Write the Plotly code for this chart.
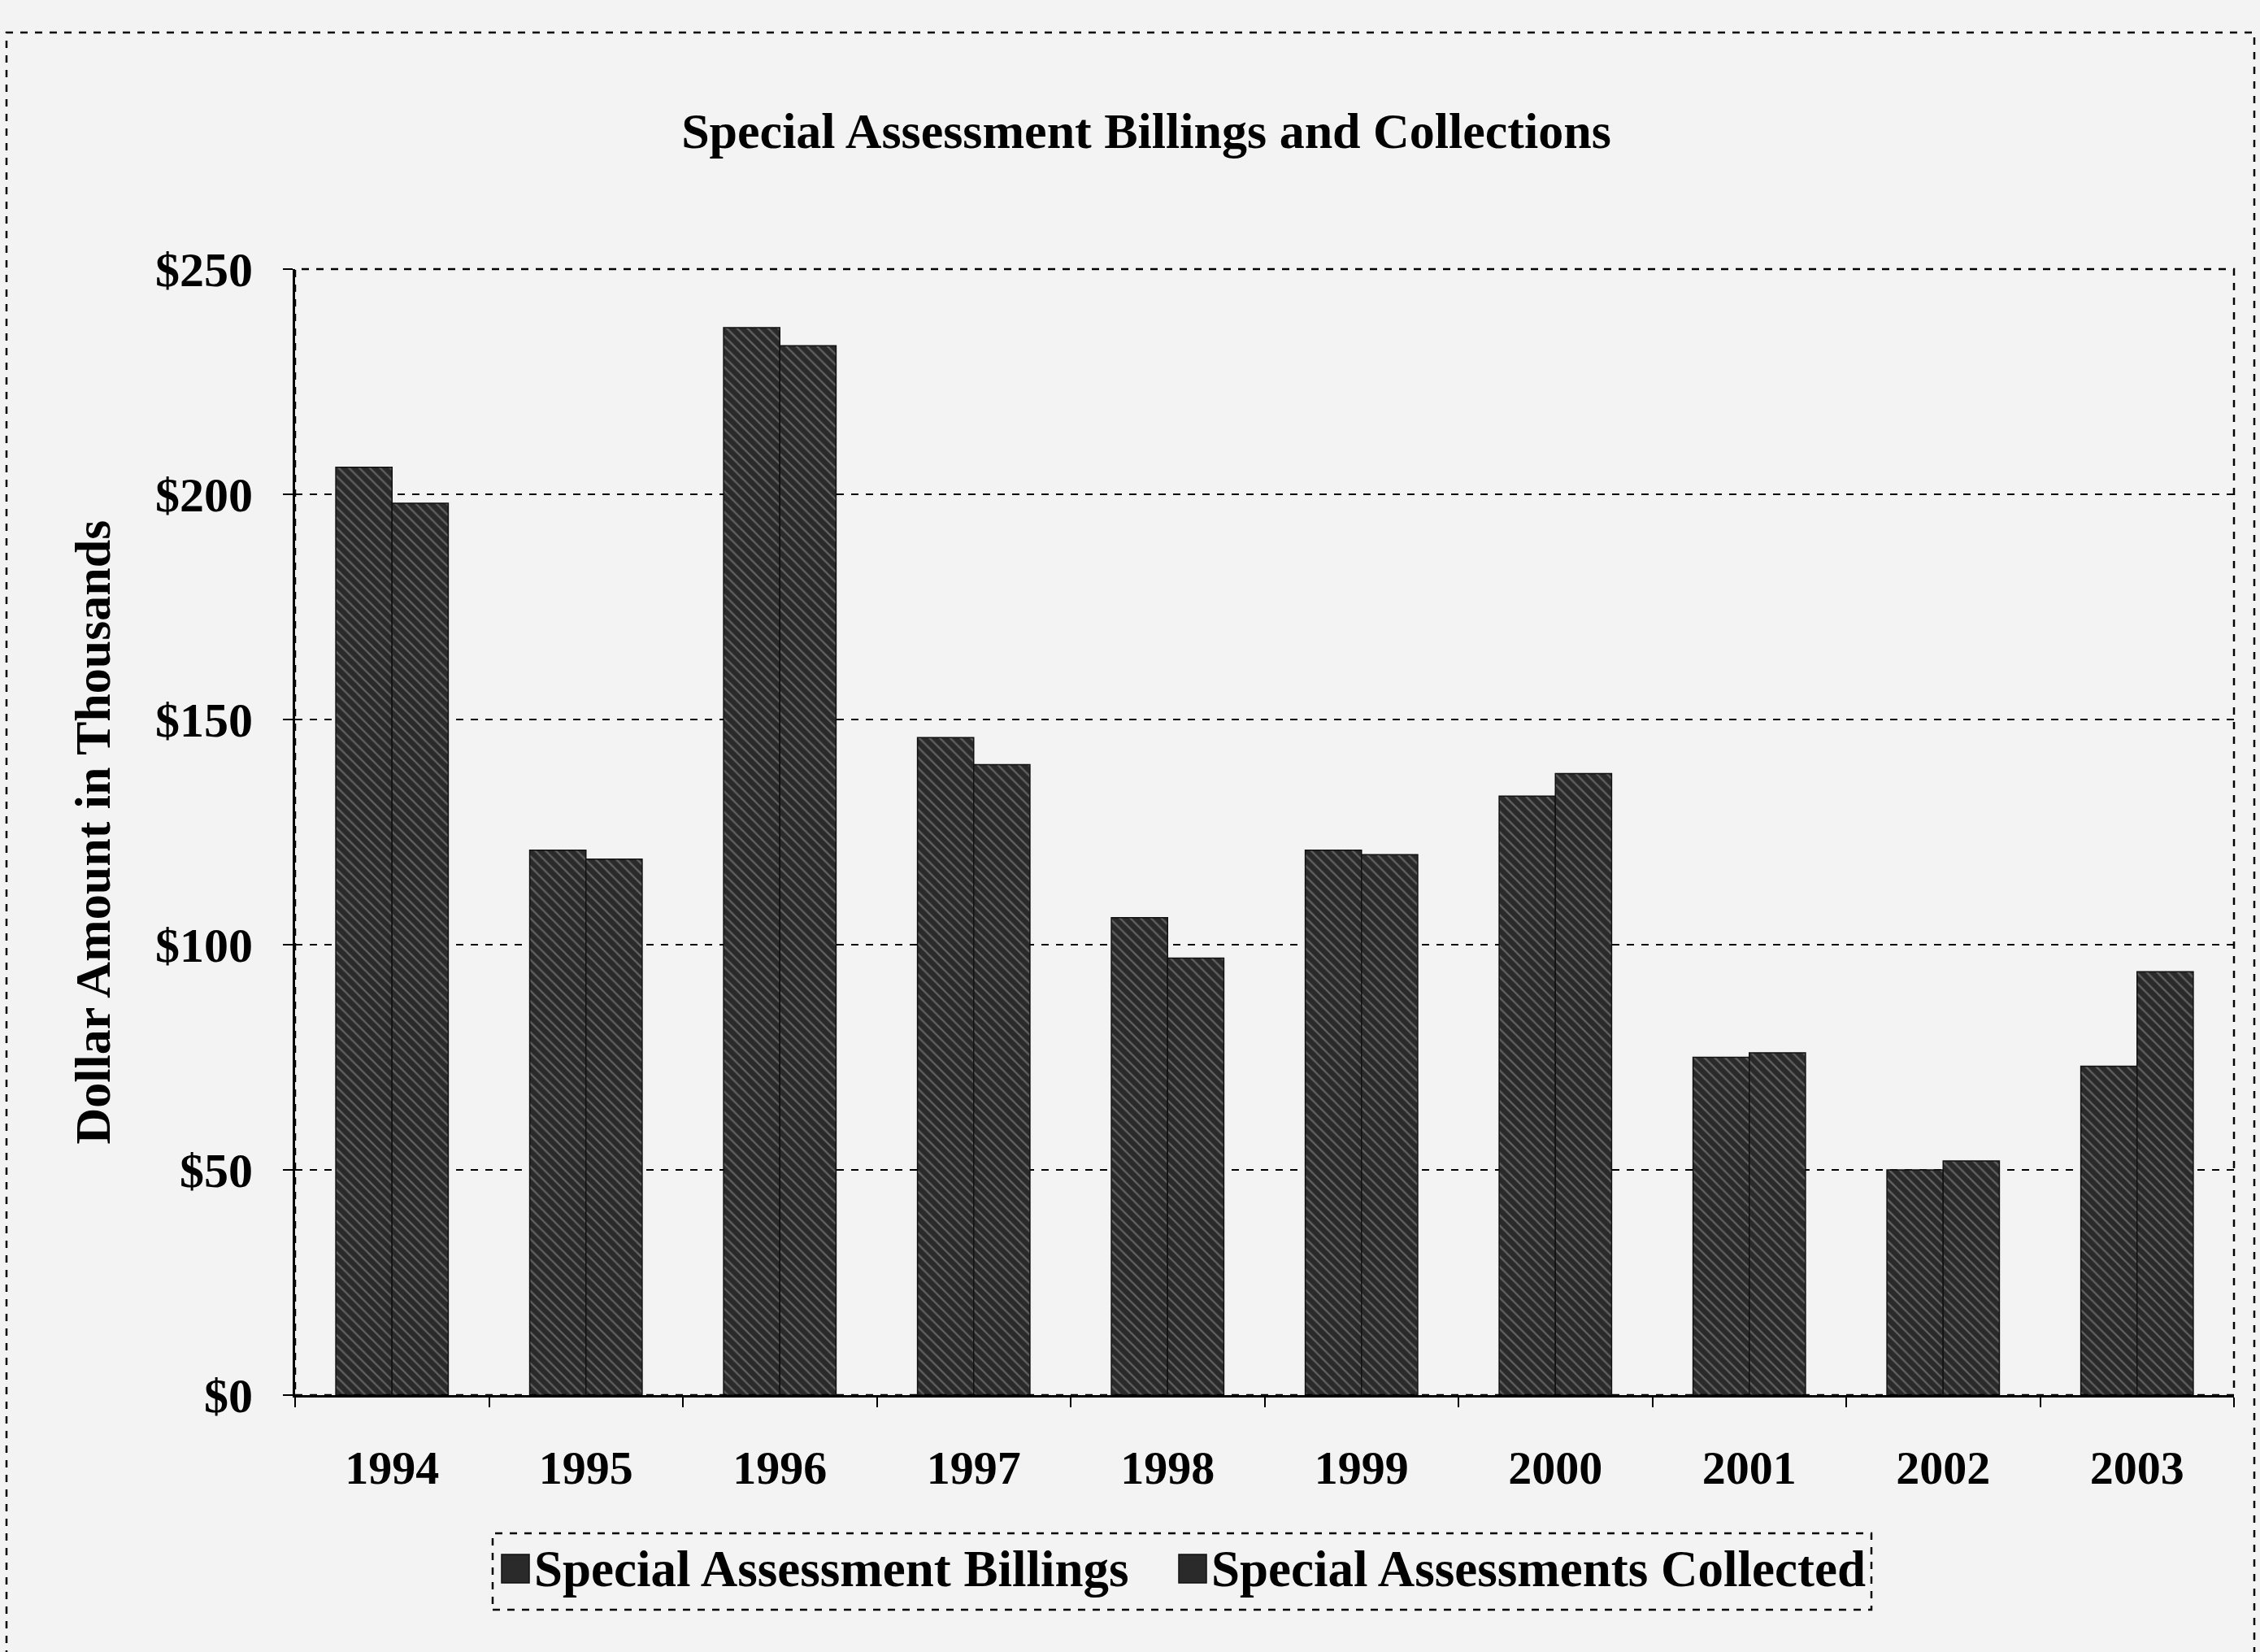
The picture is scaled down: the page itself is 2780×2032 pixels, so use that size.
import plotly.graph_objects as go

# Fiscal years and dollar amounts (in thousands)
years = ["1994", "1995", "1996", "1997", "1998", "1999", "2000", "2001", "2002", "2003"]
billings = [206, 121, 237, 146, 106, 121, 133, 75, 50, 73]
collected = [198, 119, 233, 140, 97, 120, 138, 76, 52, 94]

series_names = ["Special Assessment Billings", "Special Assessments Collected"]

y_ticks = [0, 50, 100, 150, 200, 250]
y_tick_labels = ["$0", "$50", "$100", "$150", "$200", "$250"]

W, H = 2780, 2032
L, R, T, B = 363, 32, 331, 316
SERIF = "Liberation Serif, Times New Roman, serif"
BG = "#f3f3f3"
BAR = "#2a2a2a"

fig = go.Figure()

bar_style = dict(
    marker_color=BAR,
    marker_line_color="#111111",
    marker_line_width=1.5,
    marker_pattern=dict(shape="\\", fgcolor="#9a9a9a", size=9, solidity=0.25),
    showlegend=False,
)

fig.add_trace(go.Bar(x=years, y=billings, name=series_names[0], **bar_style))
fig.add_trace(go.Bar(x=years, y=collected, name=series_names[1], **bar_style))

# pixel -> paper coordinates relative to the plot area
pw, ph = W - L - R, H - T - B
def px(x):
    return (x - L) / pw
def py(y):
    return (H - B - y) / ph

shapes = [
    # dashed plot-area frame
    dict(type="rect", xref="paper", yref="paper", x0=0, x1=1, y0=0, y1=1,
         line=dict(color="black", width=2.5, dash="dash"), layer="above"),
    # dashed outer chart frame
    dict(type="rect", xref="paper", yref="paper",
         x0=px(8), x1=px(2773), y0=py(2060), y1=py(40),
         line=dict(color="black", width=2.5, dash="dash")),
    # legend frame
    dict(type="rect", xref="paper", yref="paper",
         x0=px(606), x1=px(2302), y0=py(1980), y1=py(1886),
         line=dict(color="black", width=2.5, dash="dash")),
]

annotations = []
# legend entries: swatch + label
legend_items = [(617, series_names[0]), (1450, series_names[1])]
for x0, label in legend_items:
    shapes.append(dict(type="rect", xref="paper", yref="paper",
                       x0=px(x0), x1=px(x0 + 34), y0=py(1947), y1=py(1912),
                       fillcolor=BAR, line=dict(color="#111111", width=1.5)))
    annotations.append(dict(text=f"<b>{label}</b>", xref="paper", yref="paper",
                            x=px(x0 + 38), y=py(1930), xanchor="left", yanchor="middle",
                            showarrow=False,
                            font=dict(family=SERIF, size=63, color="black")))

fig.update_layout(
    width=W, height=H,
    margin=dict(l=L, r=R, t=T, b=B),
    paper_bgcolor=BG, plot_bgcolor=BG,
    barmode="group", bargap=0.42, bargroupgap=0.0,
    font=dict(family=SERIF, color="black", size=50),
    title=dict(
        text="<b>Special Assessment Billings and Collections</b>",
        x=px(1410), xref="paper", xanchor="center",
        y=1 - 160 / H, yref="container", yanchor="middle",
        font=dict(family=SERIF, size=62, color="black"),
    ),
    shapes=shapes,
    annotations=annotations,
    showlegend=False,
)

fig.update_xaxes(
    type="category",
    showline=True, linecolor="black", linewidth=3,
    ticks="outside", tickson="boundaries", ticklen=12, tickwidth=2, tickcolor="black",
    tickfont=dict(family=SERIF, size=58, color="black", weight="bold"),
    ticklabelstandoff=36,
    showgrid=False,
)

fig.update_yaxes(
    range=[0, 250], tickvals=y_ticks, ticktext=y_tick_labels,
    showline=True, linecolor="black", linewidth=3,
    ticks="outside", ticklen=12, tickwidth=2, tickcolor="black",
    tickfont=dict(family=SERIF, size=60, color="black", weight="bold"),
    ticklabelstandoff=25,
    showgrid=True, gridcolor="black", gridwidth=2, griddash="dash",
    zeroline=False,
    title=dict(text="<b>Dollar Amount in Thousands</b>",
               font=dict(family=SERIF, size=62, color="black"), standoff=36),
)

fig.write_html("out.html")
